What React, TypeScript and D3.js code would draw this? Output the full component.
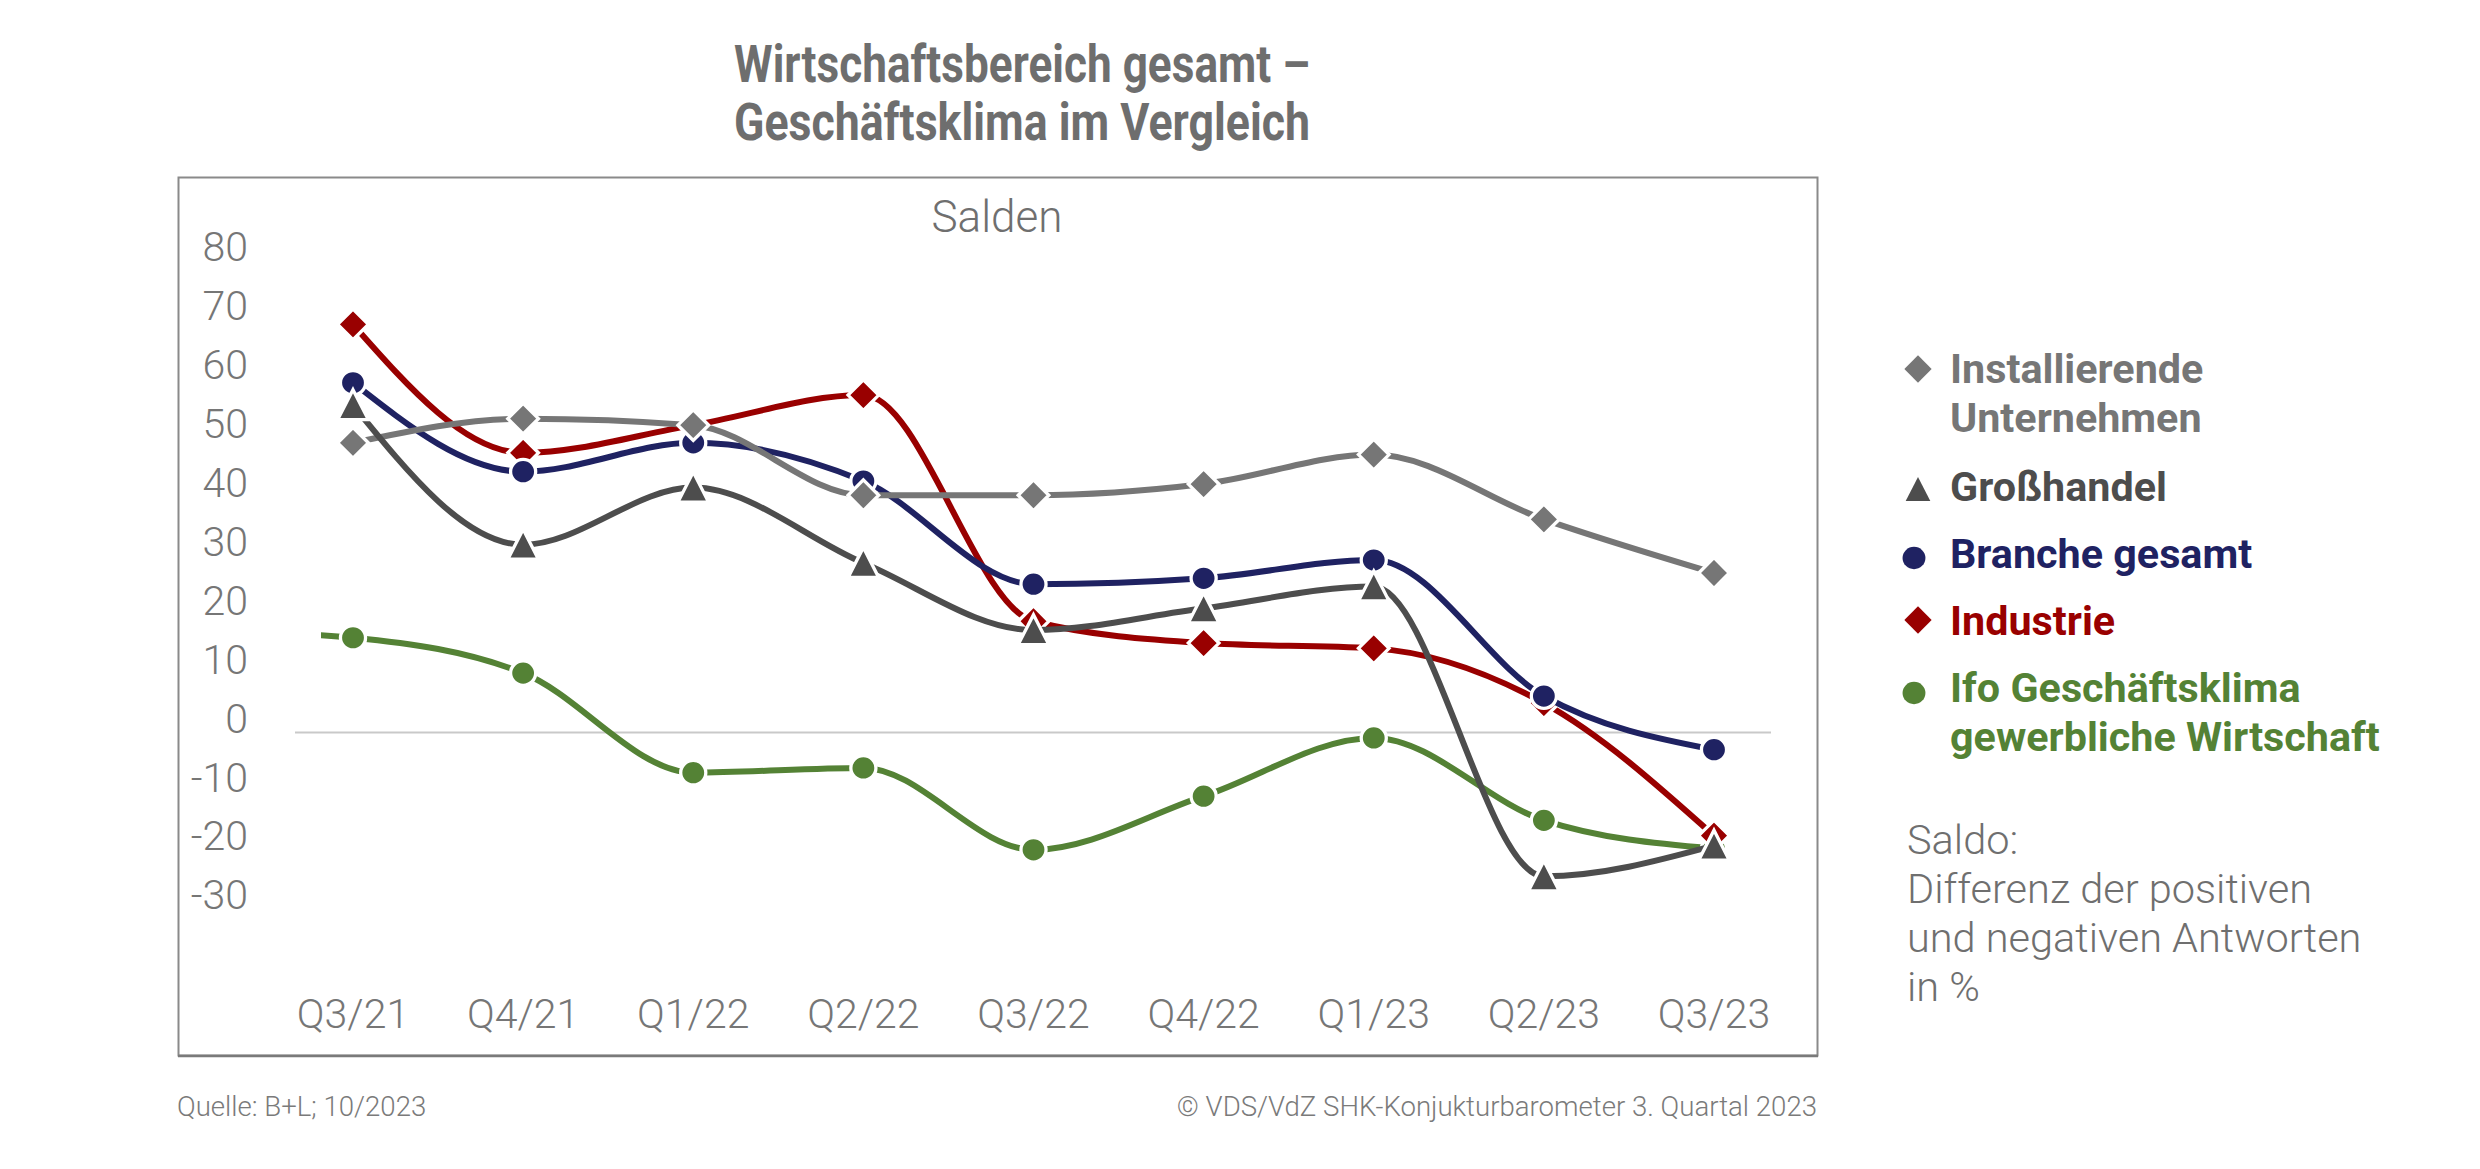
import React from "react";
import * as d3 from "d3";

const categories = ["Q3/21", "Q4/21", "Q1/22", "Q2/22", "Q3/22", "Q4/22", "Q1/23", "Q2/23", "Q3/23"];
const installierende = [49.2, 53.3, 52.2, 40.3, 40.3, 42.2, 47.2, 36.2, 27.1];
const grosshandel = [55.6, 31.9, 41.6, 28.8, 17.4, 21.1, 24.8, -24.4, -19.2];
const branche = [59.4, 44.3, 49.2, 42.7, 25.2, 26.2, 29.3, 6.2, -2.9];
const industrie = [69.3, 47.5, 52.2, 57.3, 18.9, 15.2, 14.3, 5.0, -17.5];
const ifo = [16.1, 10.1, -6.8, -6.0, -19.9, -10.8, -0.9, -14.9, -19.7];
const ifoPrevious = 17.5; // Q2/21, only visible as the clipped lead-in
const yTicks = [80, 70, 60, 50, 40, 30, 20, 10, 0, -10, -20, -30];

const titleLines = ["Wirtschaftsbereich gesamt –", "Geschäftsklima im Vergleich"];
const legendLabels = [
  ["Installierende", "Unternehmen"],
  ["Großhandel"],
  ["Branche gesamt"],
  ["Industrie"],
  ["Ifo Geschäftsklima", "gewerbliche Wirtschaft"],
];
const noteLines = ["Saldo:", "Differenz der positiven", "und negativen Antworten", "in %"];

type Shape = "diamond" | "triangle" | "circle";
const series: { name: string; values: number[]; color: string; shape: Shape }[] = [
  { name: "Ifo", values: ifo, color: "#548235", shape: "circle" },
  { name: "Industrie", values: industrie, color: "#990000", shape: "diamond" },
  { name: "Branche", values: branche, color: "#1f2262", shape: "circle" },
  { name: "Installierende", values: installierende, color: "#767676", shape: "diamond" },
  { name: "Großhandel", values: grosshandel, color: "#4d4d4d", shape: "triangle" },
];
const legendOrder = ["Installierende", "Großhandel", "Branche", "Industrie", "Ifo"];

const FONT = "Roboto, 'Noto Sans', sans-serif";

function Marker({
  shape,
  x,
  y,
  color,
  s = 1,
  sw = 3.3,
}: {
  shape: Shape;
  x: number;
  y: number;
  color: string;
  s?: number;
  sw?: number;
}) {
  // s scales the visible fill size; sw is the white outline width (outline sits outside the fill)
  if (shape === "circle") {
    return (
      <ellipse
        cx={x}
        cy={y}
        rx={10.9 * s + sw / 2}
        ry={10.6 * s + sw / 2}
        fill={color}
        stroke="#fff"
        strokeWidth={sw}
      />
    );
  }
  if (shape === "diamond") {
    const h = 13 * s + (sw / 2) * Math.SQRT2;
    return (
      <path
        d={`M${x},${y - h}L${x + h},${y}L${x},${y + h}L${x - h},${y}Z`}
        fill={color}
        stroke="#fff"
        strokeWidth={sw}
      />
    );
  }
  const hw = 12.3 * s + sw * 0.9;
  const hh = 12 * s + sw * 0.75;
  return (
    <path
      d={`M${x},${y - hh - sw * 0.3}L${x + hw},${y + hh}L${x - hw},${y + hh}Z`}
      fill={color}
      stroke="#fff"
      strokeWidth={sw}
    />
  );
}

export default function App() {
  const W = 2480;
  const H = 1169;
  const x = d3.scalePoint<string>().domain(categories).range([353, 1714]);
  const step = x.step();
  const y = d3.scaleLinear().domain([-30, 80]).range([909.3, 261.4]);

  const line = d3
    .line<[number, number]>()
    .x((d) => d[0])
    .y((d) => y(d[1]))
    .curve(d3.curveMonotoneX);

  const pts = (vals: number[]): [number, number][] => vals.map((v, i) => [x(categories[i]) as number, v]);

  return (
    <svg
      width={W}
      height={H}
      style={{ position: "absolute", left: 0, top: 0, background: "#fff" }}
      fontFamily={FONT}
    >
      <defs>
        <clipPath id="plotclip">
          <rect x={321} y={180} width={1480} height={870} />
        </clipPath>
      </defs>
      <rect x={0} y={0} width={W} height={H} fill="#fff" />

      {/* Title */}
      {titleLines.map((t, i) => (
        <text
          key={t}
          x={1022}
          y={82 + i * 58}
          textAnchor="middle"
          fontSize={51}
          fontWeight={700}
          fill="#6e6e6e"
          textLength={576}
          lengthAdjust="spacingAndGlyphs"
        >
          {t}
        </text>
      ))}

      {/* Frame */}
      <rect x={178.5} y={177.5} width={1639} height={878} fill="none" stroke="#8a8a8a" strokeWidth={2} />
      <line x1={178} x2={1818} y1={1056} y2={1056} stroke="#7a7a7a" strokeWidth={2.5} />

      {/* Subtitle */}
      <text x={997} y={232} textAnchor="middle" fontSize={44} fontWeight={300} fill="#6f6f6f">
        Salden
      </text>

      {/* Y labels */}
      {yTicks.map((t) => (
        <text key={t} x={248} y={y(t)} textAnchor="end" fontSize={41} fontWeight={300} fill="#767676">
          {t}
        </text>
      ))}

      {/* Zero line */}
      <line x1={295} x2={1771} y1={y(0)} y2={y(0)} stroke="#c9c9c9" strokeWidth={2} />

      {/* X labels */}
      {categories.map((c) => (
        <text key={c} x={x(c)} y={1028} textAnchor="middle" fontSize={41} fontWeight={300} fill="#767676">
          {c}
        </text>
      ))}

      {/* Series */}
      {series.map((s) => {
        let p = pts(s.values);
        if (s.name === "Ifo") p = [[(x(categories[0]) as number) - step, ifoPrevious], ...p];
        return (
          <g key={s.name}>
            <path d={line(p) || ""} fill="none" stroke={s.color} strokeWidth={6} clipPath="url(#plotclip)" />
            {s.values.map((v, i) => (
              <Marker key={i} shape={s.shape} x={x(categories[i]) as number} y={y(v)} color={s.color} />
            ))}
          </g>
        );
      })}

      {/* Legend */}
      {legendOrder.map((name, i) => {
        const s = series.find((d) => d.name === name)!;
        const markerY = [369, 489, 558, 620, 693][i];
        const baseY = [383, 501, 568, 635, 702][i];
        const markerX = s.shape === "circle" ? 1914 : 1918;
        return (
          <g key={name}>
            <Marker shape={s.shape} x={markerX} y={markerY} color={s.color} s={s.shape === "triangle" ? 1.0 : 1.05} sw={0} />
            {legendLabels[i].map((l, j) => (
              <text key={l} x={1950} y={baseY + j * 49} fontSize={41.3} fontWeight={700} fill={s.color}>
                {l}
              </text>
            ))}
          </g>
        );
      })}

      {/* Note */}
      {noteLines.map((l, i) => (
        <text key={l} x={1907} y={854 + i * 49} fontSize={41.5} fontWeight={300} fill="#6f6f6f">
          {l}
        </text>
      ))}

      {/* Footer */}
      <text x={177} y={1116} fontSize={27.6} fontWeight={300} fill="#7a7a7a">
        Quelle: B+L; 10/2023
      </text>
      <text x={1817} y={1116} textAnchor="end" fontSize={27.6} fontWeight={300} fill="#7a7a7a">
        © VDS/VdZ SHK-Konjukturbarometer 3. Quartal 2023
      </text>
    </svg>
  );
}
